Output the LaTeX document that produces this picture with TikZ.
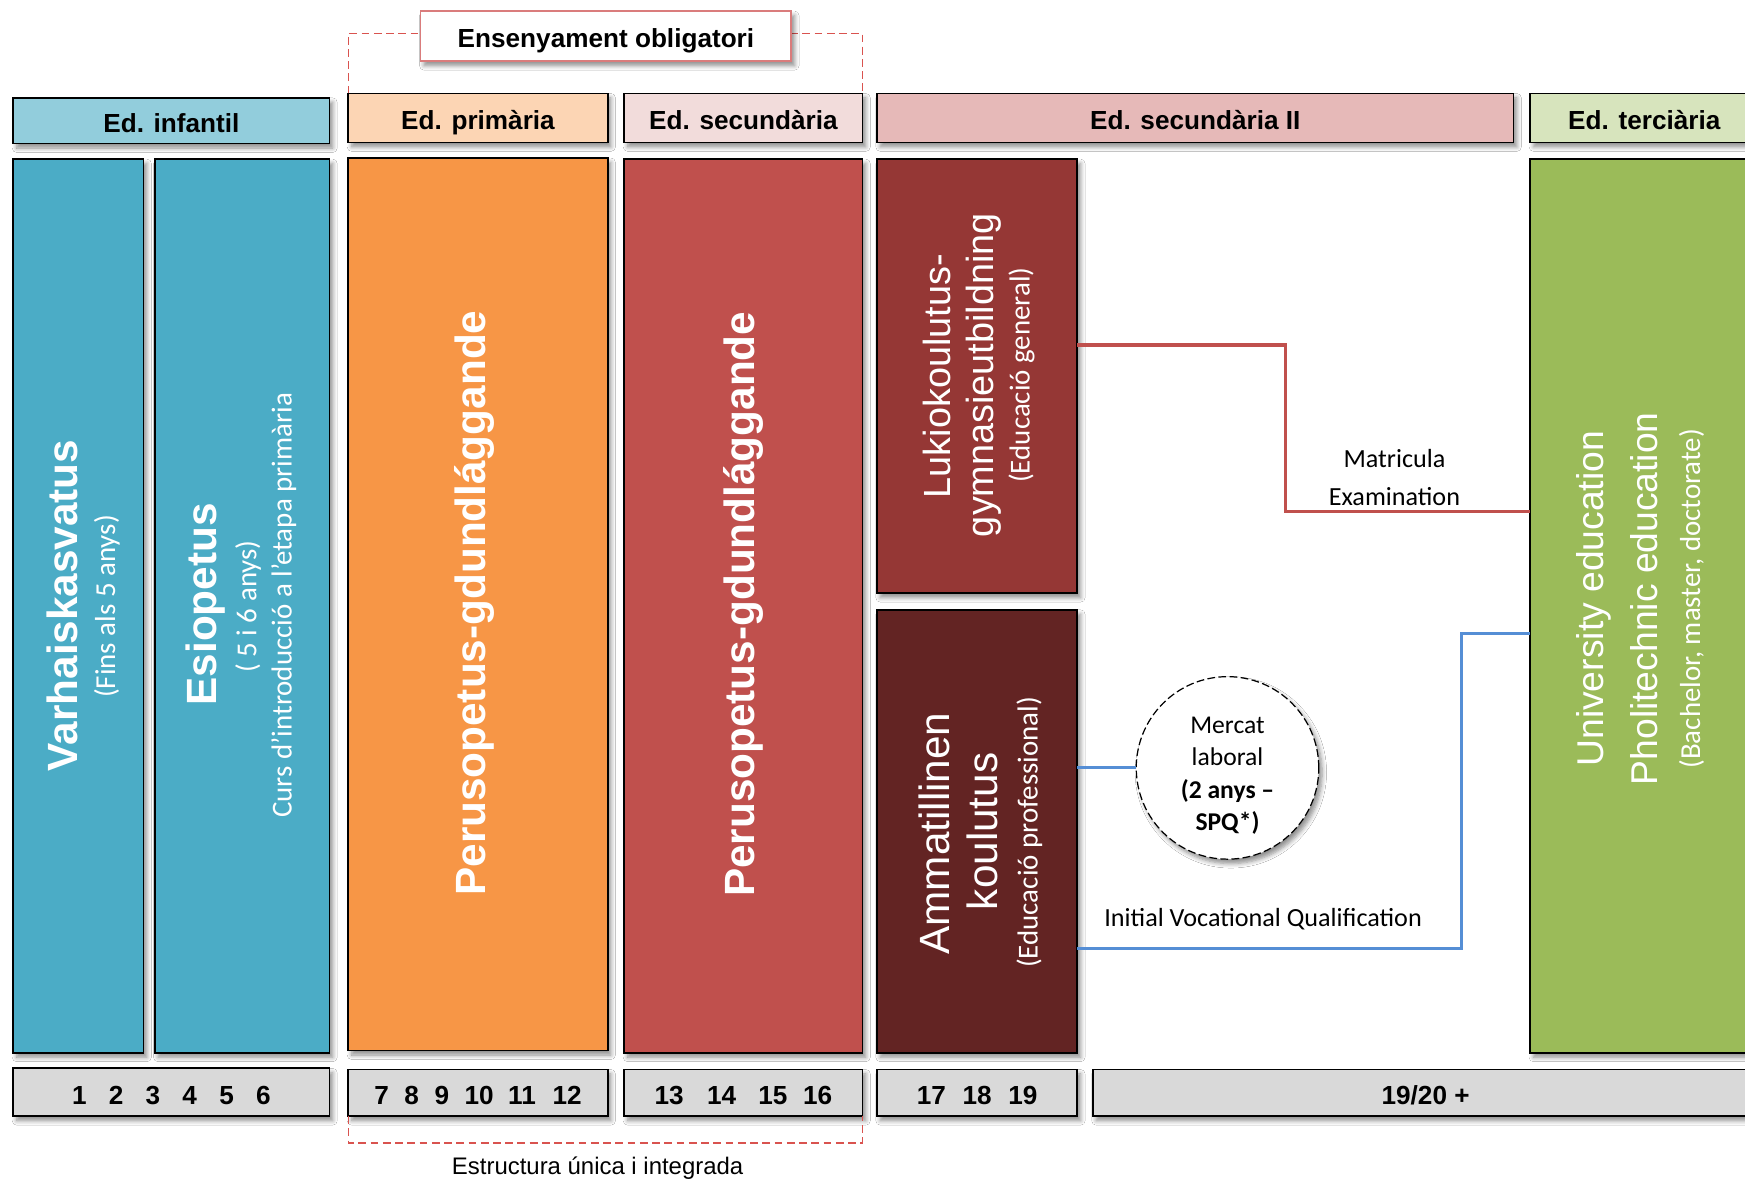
\documentclass[tikz,border=0pt]{standalone}
\usepackage{fontspec}
\setmainfont{Liberation Sans}
\newfontfamily\carlito{Carlito}
\usetikzlibrary{shadows,shadows.blur,shapes.geometric}
\definecolor{hinfc}{HTML}{92CDDC}
\definecolor{cblue}{HTML}{4BACC6}
\definecolor{hpric}{HTML}{FCD5B4}
\definecolor{corange}{HTML}{F79646}
\definecolor{hsecc}{HTML}{F2DCDB}
\definecolor{cred}{HTML}{C0504D}
\definecolor{hsecIIc}{HTML}{E6B9B8}
\definecolor{cluk}{HTML}{953735}
\definecolor{camm}{HTML}{632423}
\definecolor{hterc}{HTML}{D7E4BD}
\definecolor{cgreen}{HTML}{9BBB59}
\definecolor{gbox}{HTML}{D9D9D9}
\definecolor{lred}{HTML}{C0504D}
\definecolor{lblue}{HTML}{558ED5}
\definecolor{dred}{HTML}{D9534F}
\definecolor{obord}{HTML}{DA7C7C}
\tikzset{
 shad/.style={blur shadow={shadow xshift=3pt, shadow yshift=-4pt, shadow blur radius=4pt, shadow blur steps=6, shadow opacity=45}},
 box/.style={draw=black, line width=1.6pt, inner sep=0pt, outer sep=0pt, shad},
 hdr/.style={box, font=\fontsize{23.5}{28}\selectfont\bfseries, text height=21pt, text depth=0pt},
 vt/.style={rotate=90, text=white, inner sep=0pt, anchor=center},
 big/.style={vt, font=\fontsize{38}{44}\selectfont\bfseries},
 mid/.style={vt, font=\fontsize{34}{40}\selectfont},
 midg/.style={vt, font=\fontsize{33.5}{40}\selectfont},
 sub/.style={vt, font=\carlito\fontsize{26}{30}\selectfont},
 lbl/.style={font=\carlito\fontsize{23.5}{34}\selectfont, align=center, inner sep=0pt},
 redline/.style={draw=lred, line width=2.8pt},
 blueline/.style={draw=lblue, line width=2.8pt},
 bracket/.style={draw=dred, dash pattern=on 7pt off 4pt, line width=1.4pt},
}
\newcommand{\gp}[1]{\hspace{#1pt}}
\begin{document}
\begin{tikzpicture}[x=1pt,y=-1pt]
\useasboundingbox (0,0) rectangle (1568,1061);
\clip (0,0) rectangle (1568,1061);
\fill[white] (0,0) rectangle (1568,1061);

% brackets
\node[draw=none, minimum width=233pt, minimum height=44pt, inner sep=0pt, outer sep=0pt] (hpriA) at (429.5,106) {};
\node[draw=none, minimum width=214pt, minimum height=44pt, inner sep=0pt, outer sep=0pt] (hsecA) at (668,106) {};
\draw[bracket] (hpriA.north west) -- ++(0,-54) -| (hsecA.north east);
\node[draw=obord, line width=1.4pt, fill=white, minimum width=333pt, minimum height=45pt, inner sep=0pt,
  font=\fontsize{23.5}{28}\selectfont\bfseries, text height=21pt, text depth=0pt, shad] (oblig) at (544.5,32.5) {Ensenyament obligatori};

% headers
\node[hdr, fill=hinfc, minimum width=284pt, minimum height=41pt] (hinf) at (154,108.5) {Ed. infantil};
\node[hdr, fill=hpric, minimum width=233pt, minimum height=44pt] (hpri) at (429.5,106) {Ed. primària};
\node[hdr, fill=hsecc, minimum width=214pt, minimum height=44pt] (hsec) at (668,106) {Ed. secundària};
\node[hdr, fill=hsecIIc, minimum width=572pt, minimum height=44pt] (hsecII) at (1074,106) {Ed. secundària II};
\node[hdr, fill=hterc, minimum width=205pt, minimum height=44pt] (hter) at (1477.5,106) {Ed. terciària};

% columns
\node[box, fill=cblue, minimum width=117pt, minimum height=803pt] (varh) at (70.5,544.5) {};
\node[box, fill=cblue, minimum width=157pt, minimum height=803pt] (esio) at (217.5,544.5) {};
\node[box, fill=corange, minimum width=233pt, minimum height=802pt] (pri) at (429.5,543) {};
\node[box, fill=cred, minimum width=214pt, minimum height=803pt] (sec) at (668,544.5) {};
\node[box, fill=cluk, minimum width=180pt, minimum height=390pt] (luk) at (878,338) {};
\node[box, fill=camm, minimum width=180pt, minimum height=398pt] (amm) at (878,747) {};
\node[box, fill=cgreen, minimum width=205pt, minimum height=803pt] (green) at (1477.5,544.5) {};

% column texts
\node[big] (tvarh) at (56,544) {Varhaiskasvatus};
\node[sub] (svarh) at (96,545) {(Fins als 5 anys)};
\node[big] (tesio) at (185,543) {Esiopetus};
\node[sub] (sesio) at (223,545) {( 5 i 6 anys)};
\node[sub] (cesio) at (255,544) {Curs d’introducció a l’etapa primària};
\node[big] (tpri) at (426,542) {Perusopetus-gdundlággande};
\node[big] (tsec) at (668,543) {Perusopetus-gdundlággande};
\node[mid] (tluk1) at (842,338) {Lukiokoulutus-};
\node[mid] (tluk2) at (884,337) {gymnasieutbildning};
\node[sub] (sluk) at (918,337) {(Educació general)};
\node[vt, font=\fontsize{38}{44}\selectfont] (tamm1) at (840,749) {Ammatillinen};
\node[vt, font=\fontsize{38}{44}\selectfont] (tamm2) at (883,747) {koulutus};
\node[sub] (samm) at (925,748) {(Educació professional)};
\node[midg] (tgr1) at (1432,538) {University education};
\node[midg] (tgr2) at (1477,538) {Pholitechnic education};
\node[sub] (sgr) at (1520,538) {(Bachelor, master, doctorate)};

% numbers
\node[hdr, fill=gbox, minimum width=284pt, minimum height=43pt] (n1) at (154,981.5) {1\gp{20}2\gp{20}3\gp{20}4\gp{20}5\gp{20}6};
\node[hdr, fill=gbox, minimum width=233pt, minimum height=42pt] (n2) at (429.5,982) {7\gp{14}8\gp{14}9\gp{14}10\gp{13}11\gp{15}12};
\node[hdr, fill=gbox, minimum width=214pt, minimum height=42pt] (n3) at (668,982) {13\gp{21}14\gp{20}15\gp{14}16};
\node[hdr, fill=gbox, minimum width=180pt, minimum height=42pt] (n4) at (878,982) {17\gp{15}18\gp{15}19};
\node[hdr, fill=gbox, minimum width=598pt, minimum height=42pt] (n5) at (1281,982) {19/20 +};

\draw[bracket] (n2.south west) -- ++(0,24) -| (n3.south east);
\node[font=\fontsize{21.5}{26}\selectfont, inner sep=0pt] (estr) at (537,1050) {Estructura única i integrada};

% connectors
\coordinate (rx) at (1155,400);
\coordinate (bx) at (1313,700);
\draw[redline] ([yshift=28pt]luk.east) -| (rx) |- ([yshift=84.5pt]green.west);
\node[lbl] (matr) at (1253,429) {Matricula\\Examination};

\node[circle, draw=black, dash pattern=on 7pt off 3pt, line width=1.1pt, fill=white, minimum size=164pt, inner sep=0pt, shad] (circ) at (1103,690) {};
\draw[blueline] ([yshift=57pt]amm.east) -- (circ.west);
\node[font=\carlito\fontsize{23}{29}\selectfont, align=center, inner sep=0pt] (circt) at (1103,697) {Mercat\\laboral\\\textbf{(2 anys –}\\\textbf{SPQ*)}};
\draw[blueline] ([yshift=-105pt]amm.east) -| (bx) |- ([yshift=-24.5pt]green.west);
\node[lbl] (ivq) at (1135,826) {Initial Vocational Qualification};
\end{tikzpicture}
\end{document}
